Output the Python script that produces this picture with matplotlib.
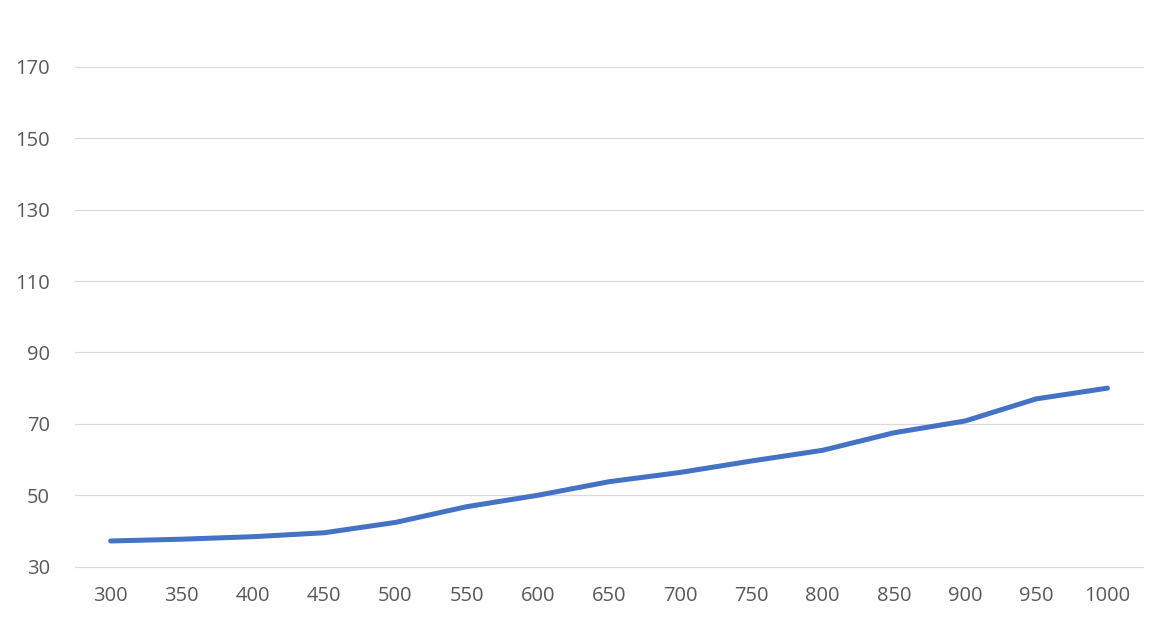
import matplotlib.pyplot as plt

# datos
x_vals = [300, 350, 400, 450, 500, 550, 600, 650, 700, 750, 800, 850, 900, 950, 1000]
y_vals = [37.2, 37.7, 38.4, 39.5, 42.4, 46.8, 50.0, 53.8, 56.4, 59.6, 62.6, 67.5, 70.8, 77.0, 80.0]
y_ticks = [30, 50, 70, 90, 110, 130, 150, 170]

plt.rcParams['font.family'] = ['Open Sans', 'DejaVu Sans']

fig = plt.figure(figsize=(11.69, 6.25), dpi=100)
ax = fig.add_axes([0.0642, 0.0933, 0.9136, 0.9067])

pos = list(range(len(x_vals)))  # eje de categorias como en excel
ax.plot(pos, y_vals, color='#4472C4', linewidth=3.6, solid_capstyle='round', solid_joinstyle='round', zorder=3)

ax.set_xlim(-0.5, len(x_vals) - 0.5)
ax.set_ylim(30, 188.7)
ax.set_xticks(pos)
ax.set_xticklabels([str(v) for v in x_vals])
ax.set_yticks(y_ticks)

ax.grid(axis='y', color='#D9D9D9', linewidth=0.9)
for gl in ax.yaxis.get_gridlines():
    gl.set_clip_on(False)  # que se vea la linea de 30
ax.set_axisbelow(True)
for s in ax.spines.values():
    s.set_visible(False)
ax.tick_params(axis='both', length=0, labelsize=14.5, colors='#595959')
ax.tick_params(axis='x', pad=14)
ax.tick_params(axis='y', pad=18)

fig.savefig('out.png', dpi=100)
